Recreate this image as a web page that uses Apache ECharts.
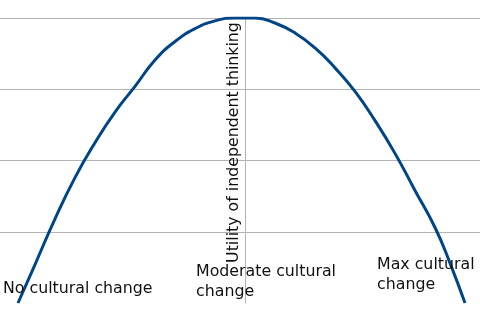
<!DOCTYPE html>
<html>
<head>
<meta charset="utf-8">
<script src="https://cdn.jsdelivr.net/npm/echarts@6/dist/echarts.min.js"></script>
<style>
html,body{margin:0;padding:0;background:#fff;}
#chart{width:480px;height:320px;}
</style>
</head>
<body>
<div id="chart"></div>
<script>
// Curve points (x: cultural change, 0 = moderate; y: utility)
const curveX = [-227, -210, -190, -170, -150, -130, -110, -90, -70, -50, -30, -10, 0, 10, 30, 50, 70, 90, 110, 130, 150, 170, 190, 205, 220];
const curveY = [0, 0.54, 1.18, 1.76, 2.25, 2.68, 3.04, 3.41, 3.67, 3.85, 3.96, 4.0, 4.0, 4.0, 3.93, 3.79, 3.58, 3.30, 2.97, 2.56, 2.10, 1.58, 1.06, 0.56, 0];
const yTicks = [0, 1, 2, 3, 4];
const yTitle = 'Utility of independent thinking';
const xLabels = ['No cultural change', 'Moderate cultural\nchange', 'Max cultural\nchange'];

const chart = echarts.init(document.getElementById('chart'), null, {renderer: 'canvas'});
const font = '"DejaVu Sans", sans-serif';
const textStyle = {fontFamily: font, fontSize: 15.8, fill: '#111', lineHeight: 20};

chart.setOption({
  animation: false,
  backgroundColor: '#ffffff',
  grid: {left: 0, right: 0, top: 18, bottom: 17, containLabel: false},
  xAxis: {
    type: 'value', min: -245, max: 235,
    axisLine: {show: false}, axisTick: {show: false}, axisLabel: {show: false}, splitLine: {show: false}
  },
  yAxis: {
    type: 'value', min: yTicks[0], max: yTicks[yTicks.length - 1], interval: 1,
    axisLine: {show: true, onZero: true, lineStyle: {color: '#b3b3b3', width: 1}},
    axisTick: {show: false}, axisLabel: {show: false},
    splitLine: {show: true, showMinLine: false, lineStyle: {color: '#b3b3b3', width: 1}}
  },
  series: [{
    type: 'line',
    data: curveX.map((x, i) => [x, curveY[i]]),
    smooth: 0.5,
    symbol: 'none',
    lineStyle: {color: '#004586', width: 3},
    z: 3
  }],
  graphic: [
    {type: 'text', x: 233.5, y: 142.5, rotation: Math.PI / 2, z: 10,
     style: Object.assign({text: yTitle, align: 'center', verticalAlign: 'middle'}, textStyle)},
    {type: 'text', x: 3, y: 279, z: 10,
     style: Object.assign({text: xLabels[0], align: 'left', verticalAlign: 'top'}, textStyle)},
    {type: 'text', x: 196, y: 262, z: 10,
     style: Object.assign({text: xLabels[1], align: 'left', verticalAlign: 'top'}, textStyle)},
    {type: 'text', x: 377, y: 255, z: 10,
     style: Object.assign({text: xLabels[2], align: 'left', verticalAlign: 'top'}, textStyle)}
  ]
});
</script>
</body>
</html>
